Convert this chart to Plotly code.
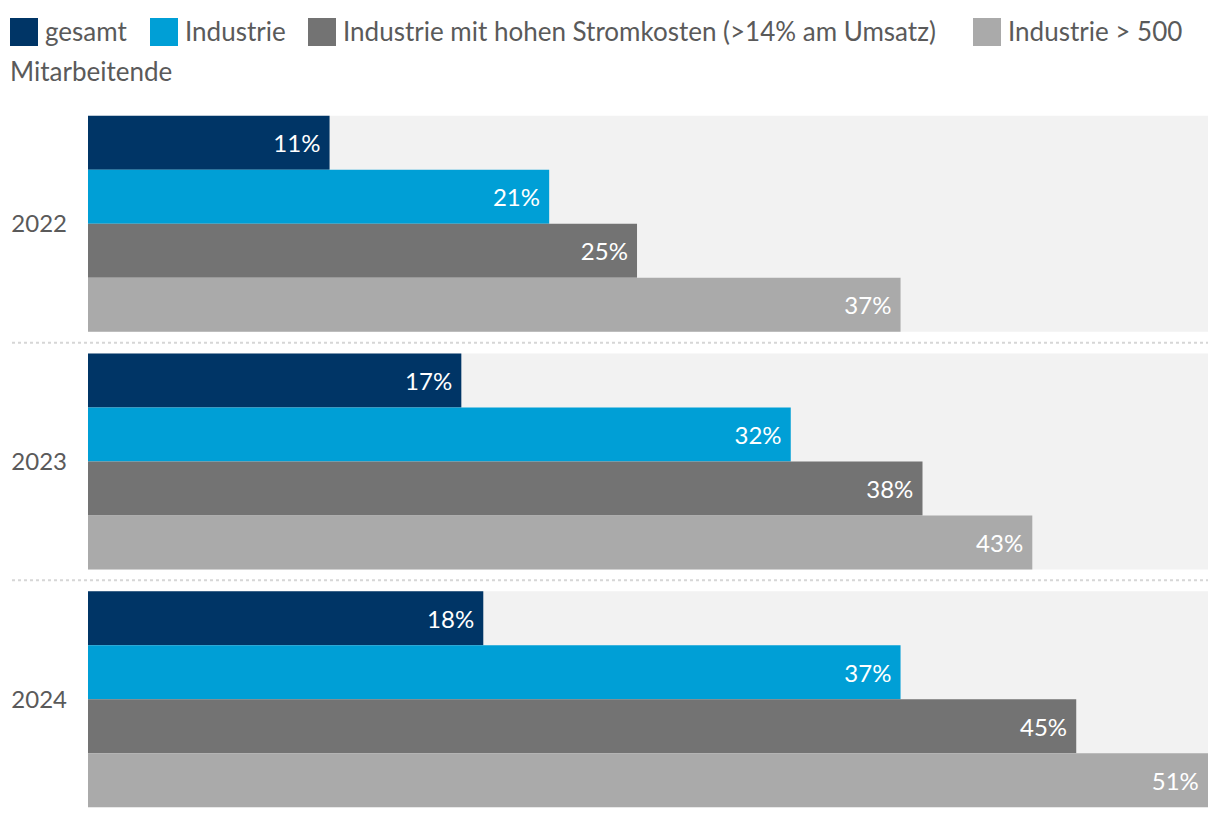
import plotly.graph_objects as go

years = ["2022", "2023", "2024"]
series_names = [
    "gesamt",
    "Industrie",
    "Industrie mit hohen Stromkosten (>14% am Umsatz)",
    "Industrie > 500 Mitarbeitende",
]
gesamt = [11, 17, 18]
industrie = [21, 32, 37]
hohe_stromkosten = [25, 38, 45]
industrie_500 = [37, 43, 51]

colors = ["#003566", "#009fd6", "#737373", "#aaaaaa"]
values = [gesamt, industrie, hohe_stromkosten, industrie_500]

W, H = 1220, 818
L, R, T, B = 88, 12, 105, 0
PW, PH = W - L - R, H - T - B
FONT = "Lato"


def px_x(px):
    return (px - L) / PW


def px_y(py):
    return (H - B - py) / PH


fig = go.Figure()
for name, vals, col in zip(series_names, values, colors):
    fig.add_trace(go.Bar(
        y=years, x=vals, name=name, orientation="h",
        marker=dict(color=col, line=dict(width=0)),
        text=[f"{v}%\u00a0" for v in vals], textposition="inside",
        insidetextanchor="end",
        textfont=dict(color="white", size=24, family=FONT),
        showlegend=False, hoverinfo="skip",
    ))

shapes = []
half = 216 / 237.7 / 2
for i in range(len(years)):
    shapes.append(dict(type="rect", xref="paper", yref="y", x0=0, x1=1,
                       y0=i - half, y1=i + half, fillcolor="#f2f2f2",
                       line=dict(width=0), layer="below"))
for i in range(len(years) - 1):
    shapes.append(dict(type="line", xref="paper", yref="y", x0=px_x(12), x1=1,
                       y0=i + 0.5, y1=i + 0.5,
                       line=dict(color="#d6d6d6", width=2, dash="dot")))

# manual legend (text wraps like the reference)
leg_sq = [10, 150, 308, 973]
annotations = []
legend_labels = ["gesamt", "Industrie", series_names[2], "Industrie > 500"]
for x0, lab, col in zip(leg_sq, legend_labels, colors):
    shapes.append(dict(type="rect", xref="paper", yref="paper",
                       x0=px_x(x0), x1=px_x(x0 + 28), y0=px_y(46), y1=px_y(18),
                       fillcolor=col, line=dict(width=0)))
    annotations.append(dict(xref="paper", yref="paper", x=px_x(x0 + 33), y=px_y(31),
                            text=lab, showarrow=False, xanchor="left", yanchor="middle",
                            font=dict(size=26, color="#5a5a5a", family=FONT)))
annotations.append(dict(xref="paper", yref="paper", x=px_x(8), y=px_y(71),
                        text="Mitarbeitende", showarrow=False, xanchor="left",
                        yanchor="middle",
                        font=dict(size=26, color="#5a5a5a", family=FONT)))

fig.update_layout(
    width=W, height=H,
    margin=dict(l=L, r=R, t=T, b=B),
    barmode="group", bargap=1 - 216 / 237.7, bargroupgap=0,
    plot_bgcolor="white", paper_bgcolor="white",
    font=dict(family=FONT, color="#5a5a5a"),
    shapes=shapes, annotations=annotations,
    uniformtext=dict(minsize=10, mode="show"),
)
fig.update_xaxes(range=[0, 51], visible=False, showgrid=False, zeroline=False)
fig.update_yaxes(range=[2.5, -0.5], showgrid=False, zeroline=False, showline=False,
                 ticks="", ticklabelstandoff=20,
                 tickfont=dict(size=24, color="#5a5a5a", family=FONT))

fig.write_html("out.html", config={"displayModeBar": False},
               post_script="document.body.style.margin='0';")
